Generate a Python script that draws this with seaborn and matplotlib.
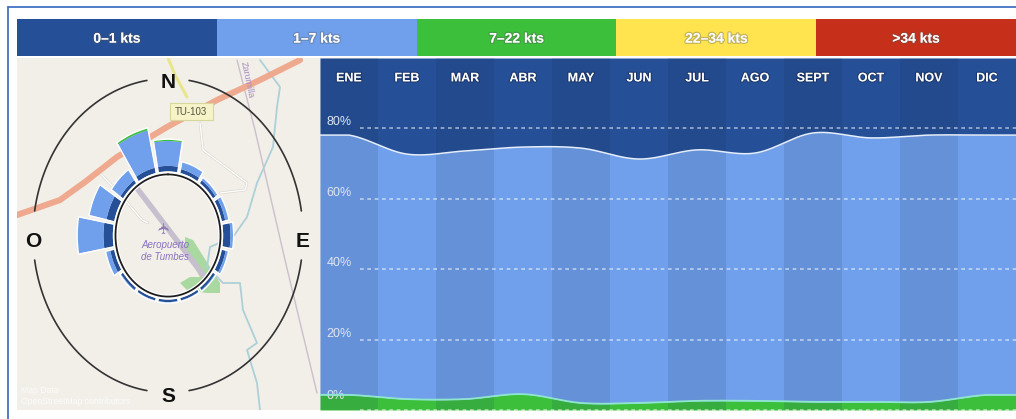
import numpy as np
import pandas as pd
import matplotlib
matplotlib.use("Agg")
import matplotlib.pyplot as plt
import matplotlib.patheffects as pe
from matplotlib.patches import Polygon, Rectangle
from matplotlib.transforms import ScaledTranslation
import seaborn as sns

# ---------- data ----------
speed_classes = ["0–1 kts", "1–7 kts", "7–22 kts", "22–34 kts", ">34 kts"]
class_colors = ["#254f96", "#70a0ec", "#3cc03c", "#ffe44f", "#c6301a"]
months = ["ENE", "FEB", "MAR", "ABR", "MAY", "JUN", "JUL", "AGO", "SEPT", "OCT", "NOV", "DIC"]
pct_0_1 = [21.9, 27.3, 26.4, 25.3, 25.6, 28.7, 26.1, 27.0, 21.3, 22.7, 21.9, 21.9]
pct_7_22 = [4.3, 3.1, 3.1, 4.5, 2.0, 2.0, 2.6, 2.6, 2.3, 2.3, 2.3, 4.3]
pct_1_7 = [100 - a - b for a, b in zip(pct_0_1, pct_7_22)]
y_ticks = [0, 20, 40, 60, 80]
y_labels = ["0%", "20%", "40%", "60%", "80%"]

directions = ["N", "NNE", "NE", "ENE", "E", "ESE", "SE", "SSE", "S", "SSW", "SW", "WSW", "W", "WNW", "NW", "NNW"]
rose_0_1 = [2.7, 1.9, 1.7, 2.0, 4.2, 2.3, 1.3, 1.2, 1.2, 1.2, 1.3, 2.3, 5.4, 4.5, 1.8, 2.6]
rose_1_7 = [12.2, 3.7, 1.6, 2.2, 1.8, 1.6, 0.7, 0.5, 0.5, 0.5, 0.7, 2.7, 15.0, 10.2, 6.2, 18.8]
rose_7_22 = [0.9, 0, 0, 0, 0, 0, 0, 0, 0, 0, 0, 0, 0, 0, 0, 1.2]

# ---------- basemap drawing geometry (pixels of the map panel) ----------
road_main = [(17, 215), (40, 207), (60, 200), (85, 182), (117, 157), (167, 127), (217, 100), (260, 80), (300, 60)]
road_yellow = [(168, 58), (175, 75), (187, 97)]
road_white = [(200, 123), (203, 150), (247, 183), (245, 190), (220, 193)]
road_white2 = [(100, 173), (125, 200), (142, 220), (148, 223)]
railway = [(237, 60), (255, 130), (285, 260), (317, 393)]
river = [(260, 60), (280, 87), (277, 107), (273, 147), (257, 183), (247, 217), (233, 237), (210, 247),
         (207, 267), (223, 283), (240, 283), (243, 310), (257, 343), (247, 350), (257, 383), (260, 410)]
runway = [(133, 183), (207, 280)]
park = [(185, 237), (193, 240), (220, 283), (220, 293), (207, 293), (187, 290), (180, 283), (190, 277), (200, 277), (185, 250)]

sns.set_theme(style="white")
plt.rcParams["font.family"] = ["Liberation Sans", "DejaVu Sans"]
W, H = 1016, 419
fig = plt.figure(figsize=(W / 100, H / 100), dpi=100, facecolor="white")


def px_axes(x0, y0, x1, y1, **kw):
    return fig.add_axes([x0 / W, 1 - y1 / H, (x1 - x0) / W, (y1 - y0) / H], **kw)


# outer frame
fig.add_artist(plt.Line2D([8 / W, 8 / W], [0, 1 - 7.5 / H], color="#4472c4", lw=1.3))
fig.add_artist(plt.Line2D([8 / W, 1], [1 - 7.5 / H, 1 - 7.5 / H], color="#4472c4", lw=1.3))

# ---------- legend strip ----------
axl = px_axes(17, 19, 1016, 56)
legend_df = pd.DataFrame({"clase": speed_classes, "v": [1] * 5})
sns.barplot(data=legend_df, x="clase", y="v", hue="clase", palette=class_colors, width=1.0,
            legend=False, saturation=1, ax=axl)
for b in axl.patches:
    b.set_linewidth(0)
axl.set_xlim(-0.5, 4.5)
axl.set_ylim(0, 1)
axl.axis("off")
for i, s in enumerate(speed_classes):
    axl.text(i, 0.47, s, ha="center", va="center", color="white", fontsize=10, fontweight="bold",
             path_effects=[pe.withStroke(linewidth=1.8, foreground="#55555555")])

# ---------- map ----------
axm = px_axes(17, 58, 320, 410)
axm.set_facecolor("#f2efe9")
axm.set_xlim(17, 320)
axm.set_ylim(410, 58)
axm.set_xticks([])
axm.set_yticks([])
for s in axm.spines.values():
    s.set_visible(False)


def pl(pts, **kw):
    a = np.array(pts)
    axm.plot(a[:, 0], a[:, 1], solid_capstyle="round", solid_joinstyle="round", **kw)


axm.add_patch(Polygon(park, closed=True, color="#a9d8a0", lw=0, zorder=1))
pl(river, color="#acd0d8", lw=1.3, zorder=1)
pl(railway, color="#cbbfcc", lw=1.0, zorder=1)
pl(road_white, color="#d6d3cc", lw=1.8, zorder=1.1)
pl(road_white, color="white", lw=1.0, zorder=1.2)
pl(road_white2, color="#d6d3cc", lw=1.8, zorder=1.1)
pl(road_white2, color="white", lw=1.0, zorder=1.2)
pl(road_yellow, color="#e8e68c", lw=2.2, zorder=1.3)
pl(road_main, color="#eea98f", lw=4.4, zorder=1.5)
pl(runway, color="#c6bfce", lw=4.0, zorder=1.6)
axm.add_patch(Rectangle((170, 103), 43, 17, fc="#f6f3c8", ec="#d8d79a", lw=0.8, zorder=2))
axm.text(191, 112, "TU-103", ha="center", va="center", fontsize=7, color="#555540", zorder=3)
axm.text(247, 80, "Zarumilla", ha="center", va="center", fontsize=6.5, color="#a58fc0", rotation=-78, zorder=3)
axm.text(165, 228, "✈", ha="center", va="center", fontsize=11, color="#8d78bd", rotation=90,
         family=["DejaVu Sans"], zorder=3)
axm.text(165, 251, "Aeropuerto\nde Tumbes", ha="center", va="center", fontsize=7, color="#8a72c0",
         style="italic", linespacing=1.25, zorder=3)
axm.text(21, 396, "Map Data\nOpenStreetMap contributors", ha="left", va="center", fontsize=6.2,
         color="white", alpha=0.75, linespacing=1.2, zorder=3)

# ---------- wind rose ----------
cx, cy, rx, ry = 168, 235.5, 135, 157
axr = px_axes(cx - rx, cy - ry, cx + rx, cy + ry, projection="polar")
axr.set_aspect("auto")
axr.patch.set_alpha(0)
axr.set_theta_zero_location("N")
axr.set_theta_direction(-1)
R_MIN, R_MAX = -31.5, 45.6
axr.set_rlim(R_MIN, R_MAX)
axr.grid(False)
axr.set_xticks([])
axr.set_yticks([])
axr.spines["polar"].set_visible(False)

theta = np.deg2rad(np.arange(len(directions)) * 360 / len(directions))
width = np.deg2rad(360 / len(directions) * 0.88)
bottom = np.zeros(len(directions))
for vals, col in zip([rose_0_1, rose_1_7, rose_7_22], class_colors[:3]):
    vals = np.array(vals, dtype=float)
    axr.bar(theta, vals, width=width, bottom=bottom, color=col, edgecolor="none", zorder=3)
    bottom += vals
axr.bar(theta, bottom + 0.4, width=width * 1.03, bottom=-0.4, fill=False, edgecolor="white", lw=1.0, zorder=4)

tt = np.linspace(0, 2 * np.pi, 361)
axr.plot(tt, np.full_like(tt, -1.5), color="white", lw=3.0, zorder=2.5)
axr.plot(tt, np.full_like(tt, -1.5), color="#1d1d1d", lw=1.3, zorder=5)
for c in [45, 135, 225, 315]:
    arc = np.deg2rad(np.linspace(c - 36, c + 36, 80))
    axr.plot(arc, np.full_like(arc, R_MAX), color="#333333", lw=1.2, clip_on=False, zorder=5)
for lab, ang, off in [("N", 0, -3), ("E", 90, -4), ("S", 180, -3), ("O", 270, -4)]:
    axr.annotate(lab, xy=(np.deg2rad(ang), R_MAX), xytext=(0, off), textcoords="offset points",
                 ha="center", va="center", fontsize=15, fontweight="bold", color="#111111",
                 annotation_clip=False, zorder=6)

# ---------- monthly stacked area ----------
ax = px_axes(320, 58, 1016, 410)


def smooth(values, xs):
    """Catmull-Rom curve through the monthly readings, only for drawing the line."""
    v = np.asarray(values, dtype=float)
    p = np.concatenate([[v[0]], v, [v[-1]]])
    xc = np.clip(xs, 0, len(v) - 1)
    i = np.minimum(np.floor(xc).astype(int), len(v) - 2)
    t = xc - i
    p0, p1, p2, p3 = p[i], p[i + 1], p[i + 2], p[i + 3]
    return 0.5 * (2 * p1 + (p2 - p0) * t + (2 * p0 - 5 * p1 + 4 * p2 - p3) * t ** 2
                  + (3 * p1 - p0 - 3 * p2 + p3) * t ** 3)


xs = np.linspace(-0.5, 11.5, 721)
green = smooth(pct_7_22, xs)
blue = smooth(pct_1_7, xs)
dark = 100 - green - blue
ax.stackplot(xs, green, blue, dark, colors=[class_colors[2], class_colors[1], class_colors[0]], lw=0, zorder=1)
for i in range(0, 12, 2):
    ax.axvspan(i - 0.5, i + 0.5, color="#1c2f55", alpha=0.13, lw=0, zorder=2)
sns.lineplot(x=xs, y=green + blue, color="#e4eefc", lw=1.1, ax=ax, zorder=3)
sns.lineplot(x=xs, y=green, color="#8fe6cf", lw=1.3, ax=ax, zorder=3)
for v in y_ticks:
    ax.axhline(v, xmin=40 / 696, xmax=1, color="white", alpha=0.62, lw=1.1, dashes=(2.4, 2.4), zorder=4,
               clip_on=False)
ax.set_axisbelow(False)
ax.set_xlim(-0.5, 11.5)
ax.set_ylim(0, 100)
ax.xaxis.tick_top()
ax.set_xticks(range(12), months)
ax.tick_params(axis="x", length=0, pad=-19, labelcolor="white", labelsize=9)
for t in ax.get_xticklabels():
    t.set_fontweight("bold")
    t.set_path_effects([pe.withStroke(linewidth=1.5, foreground="#10224a88")])
ax.set_yticks(y_ticks, y_labels)
ax.tick_params(axis="y", length=0, pad=-4.5, labelcolor="#dfe6f2", labelsize=9)
for t, v in zip(ax.get_yticklabels(), y_ticks):
    t.set_ha("left")
    t.set_va("bottom")
    if v == 0:
        t.set_transform(t.get_transform() + ScaledTranslation(0, 8 / 100, fig.dpi_scale_trans))
for s in ax.spines.values():
    s.set_visible(False)
ax.set_xlabel("")
ax.set_ylabel("")

fig.savefig("out.png", dpi=100, facecolor="white")
